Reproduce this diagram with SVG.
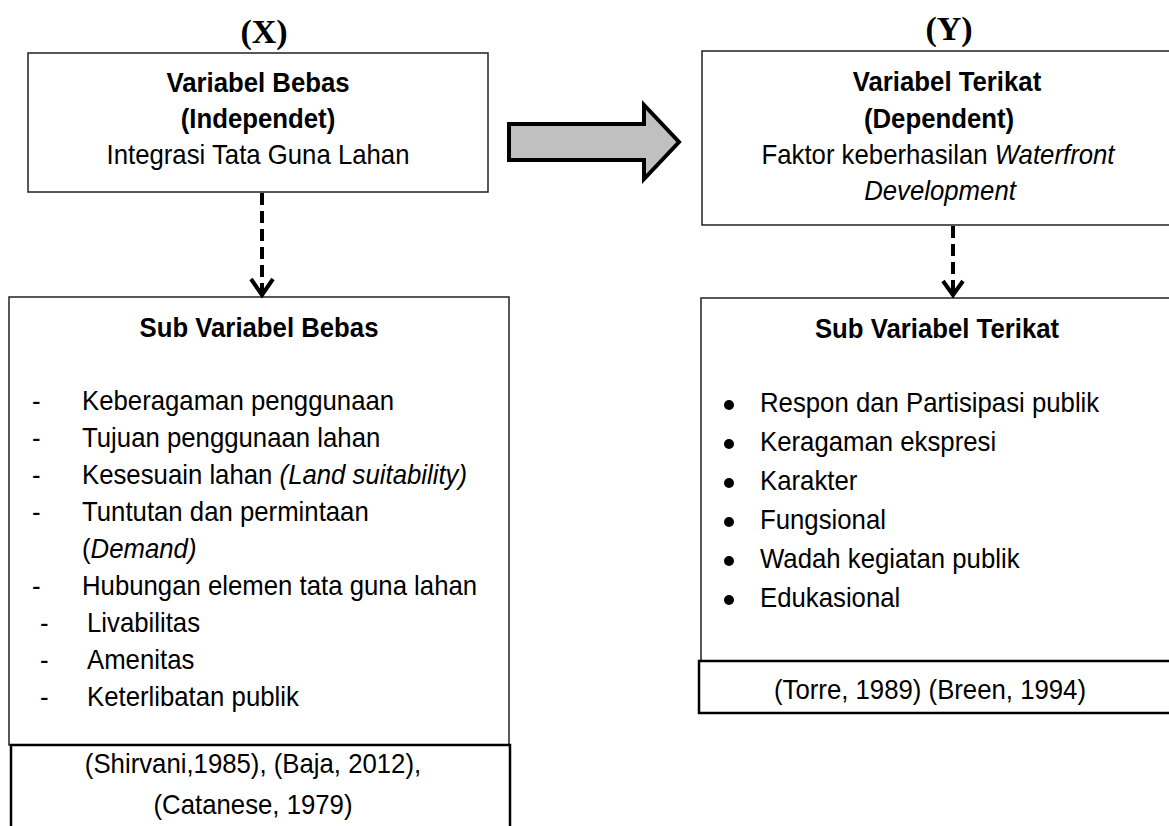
<svg xmlns="http://www.w3.org/2000/svg" width="1169" height="826" viewBox="0 0 1169 826">
<style>
  .t { font-family: "Liberation Sans", Arial, sans-serif; font-size: 28px; fill: #000; }
  .b { font-weight: bold; }
  .i { font-style: italic; }
  .c { text-anchor: middle; }
  .lbl { font-family: "Liberation Serif", "Times New Roman", serif; font-size: 34px; font-weight: bold; text-anchor: middle; fill: #000; }
  .box { fill: #fff; stroke: #222; stroke-width: 1.5; }
  .cite { fill: #fff; stroke: #000; stroke-width: 2.5; }
  .dash { stroke: #000; stroke-width: 4; stroke-dasharray: 12 6; fill: none; }
  .head { stroke: #000; stroke-width: 4; fill: none; stroke-linejoin: miter; }
</style>
<rect width="1169" height="826" fill="#fff"/>

<text class="lbl" x="264" y="43">(X)</text>
<text class="lbl" x="949" y="40">(Y)</text>

<g id="variabel-bebas">
  <rect class="box" x="28" y="53" width="460" height="139"/>
  <text class="t b c" transform="translate(258,92) scale(0.92,1)">Variabel Bebas</text>
  <text class="t b c" transform="translate(258,128) scale(0.92,1)">(Independet)</text>
  <text class="t c" transform="translate(258,164) scale(0.92,1)">Integrasi Tata Guna Lahan</text>
</g>

<g id="variabel-terikat">
  <rect class="box" x="702" y="51" width="480" height="174"/>
  <text class="t b c" transform="translate(947,91) scale(0.92,1)">Variabel Terikat</text>
  <text class="t b c" transform="translate(939,128) scale(0.92,1)">(Dependent)</text>
  <text class="t c" transform="translate(938,164) scale(0.92,1)">Faktor keberhasilan <tspan class="i">Waterfront</tspan></text>
  <text class="t i c" transform="translate(940,200) scale(0.92,1)">Development</text>
</g>

<g id="sub-variabel-bebas">
  <rect class="box" x="9" y="297" width="500" height="448"/>
  <text class="t b c" transform="translate(259,337) scale(0.92,1)">Sub Variabel Bebas</text>
  <g class="t">
    <text transform="translate(32,410) scale(0.92,1)">-</text><text transform="translate(82,410) scale(0.92,1)">Keberagaman penggunaan</text>
    <text transform="translate(32,447) scale(0.92,1)">-</text><text transform="translate(82,447) scale(0.92,1)">Tujuan penggunaan lahan</text>
    <text transform="translate(32,484) scale(0.92,1)">-</text><text transform="translate(82,484) scale(0.92,1)">Kesesuain lahan <tspan class="i">(Land suitability)</tspan></text>
    <text transform="translate(32,521) scale(0.92,1)">-</text><text transform="translate(82,521) scale(0.92,1)">Tuntutan dan permintaan</text>
    <text transform="translate(82,558) scale(0.92,1)">(<tspan class="i">Demand)</tspan></text>
    <text transform="translate(32,595) scale(0.92,1)">-</text><text transform="translate(82,595) scale(0.92,1)">Hubungan elemen tata guna lahan</text>
    <text transform="translate(40,632) scale(0.92,1)">-</text><text transform="translate(87,632) scale(0.92,1)">Livabilitas</text>
    <text transform="translate(40,669) scale(0.92,1)">-</text><text transform="translate(87,669) scale(0.92,1)">Amenitas</text>
    <text transform="translate(40,706) scale(0.92,1)">-</text><text transform="translate(87,706) scale(0.92,1)">Keterlibatan publik</text>
  </g>
</g>

<g id="sumber-bebas">
  <rect class="cite" x="11" y="745" width="499" height="100"/>
  <text class="t c" transform="translate(253,773) scale(0.92,1)">(Shirvani,1985), (Baja, 2012),</text>
  <text class="t c" transform="translate(253,814) scale(0.92,1)">(Catanese, 1979)</text>
</g>

<g id="sub-variabel-terikat">
  <rect class="box" x="701" y="298" width="480" height="363"/>
  <text class="t b c" transform="translate(937,338) scale(0.92,1)">Sub Variabel Terikat</text>
  <g fill="#000">
    <circle cx="729" cy="405" r="5"/>
    <circle cx="729" cy="444" r="5"/>
    <circle cx="729" cy="483" r="5"/>
    <circle cx="729" cy="522" r="5"/>
    <circle cx="729" cy="561" r="5"/>
    <circle cx="729" cy="600" r="5"/>
  </g>
  <g class="t">
    <text transform="translate(760,412) scale(0.92,1)">Respon dan Partisipasi publik</text>
    <text transform="translate(760,451) scale(0.92,1)">Keragaman ekspresi</text>
    <text transform="translate(760,490) scale(0.92,1)">Karakter</text>
    <text transform="translate(760,529) scale(0.92,1)">Fungsional</text>
    <text transform="translate(760,568) scale(0.92,1)">Wadah kegiatan publik</text>
    <text transform="translate(760,607) scale(0.92,1)">Edukasional</text>
  </g>
</g>

<g id="sumber-terikat">
  <rect class="cite" x="699" y="661" width="480" height="52"/>
  <text class="t c" transform="translate(930,699) scale(0.92,1)">(Torre, 1989) (Breen, 1994)</text>
</g>

<g id="connectors">
  <path d="M509,124 L644,124 L644,105 L679,142 L644,179 L644,160 L509,160 Z" fill="#c0c0c0" stroke="#000" stroke-width="4" stroke-miterlimit="10"/>
  <line class="dash" x1="262" y1="193" x2="262" y2="294"/>
  <polyline class="head" points="251,279 262,295 273,279"/>
  <line class="dash" x1="953" y1="226" x2="953" y2="294"/>
  <polyline class="head" points="943,281 953,295 963,281"/>
</g>
</svg>
